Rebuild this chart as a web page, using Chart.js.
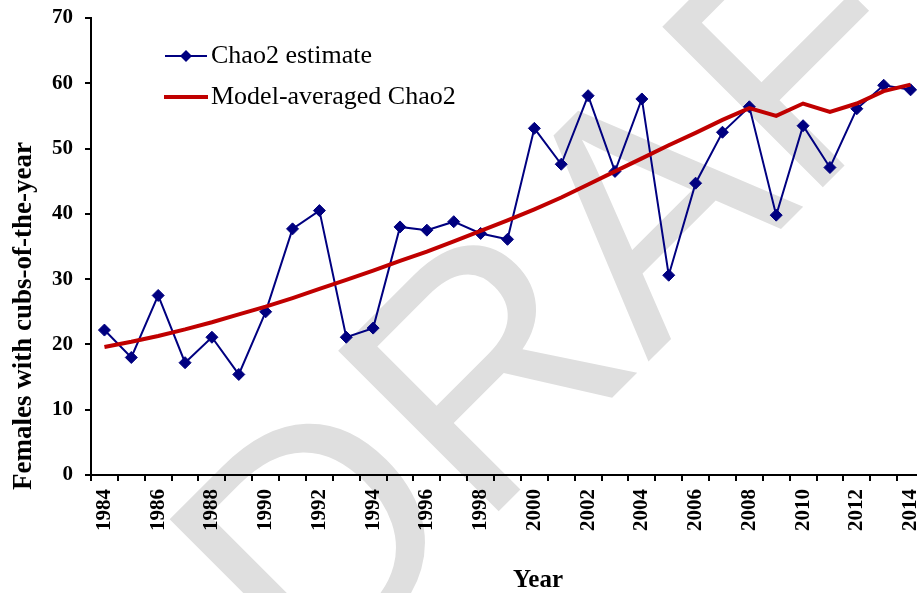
<!DOCTYPE html>
<html>
<head>
<meta charset="utf-8">
<script src="https://cdn.jsdelivr.net/npm/chart.js@4.4.1/dist/chart.umd.min.js"></script>
<style>
	html, body { margin: 0; padding: 0; background: #fff; overflow: hidden; }
	#wrap { width: 935px; height: 593px; }
</style>
</head>
<body>
<div id="wrap"><canvas id="mycanvas" width="935" height="593"></canvas></div>
<script>
var years = [];
for (var y = 1984; y <= 2014; y++) years.push(String(y));

var chao2 = [22.2, 18.0, 27.5, 17.2, 21.1, 15.4, 25.0, 37.7, 40.5, 21.1,
	22.5, 38.0, 37.5, 38.8, 37.0, 36.1, 53.1, 47.6, 58.1, 46.5,
	57.6, 30.6, 44.7, 52.5, 56.4, 39.8, 53.5, 47.1, 56.1, 59.7, 59.0];

var modelAvg = [19.6, 20.4, 21.3, 22.3, 23.4, 24.6, 25.8, 27.1, 28.5, 29.9,
	31.3, 32.8, 34.2, 35.8, 37.4, 39.0, 40.7, 42.5, 44.5, 46.5,
	48.5, 50.5, 52.4, 54.4, 56.2, 55.0, 56.9, 55.6, 56.9, 58.8, 59.8];

var yTicks = [0, 10, 20, 30, 40, 50, 60, 70];

var serif = '"Liberation Serif", "Times New Roman", serif';
var blue = '#000080';
var red = '#c00000';

// grey DRAFT stamp behind everything
var watermark = {
	id: 'watermark',
	beforeDraw: function(chart) {
		var ctx = chart.ctx;
		ctx.save();
		ctx.translate(311, 699);
		ctx.rotate(-Math.PI / 4);
		ctx.font = '330px "Liberation Sans", Arial, sans-serif';
		ctx.fillStyle = '#dfdfdf';
		ctx.textBaseline = 'alphabetic';
		ctx.fillText('DRAFT', 0, 0);
		ctx.restore();
	}
};

// legend inside the plot + axis titles
var extras = {
	id: 'extras',
	afterDraw: function(chart) {
		var ctx = chart.ctx;
		var ds = chart.data.datasets;
		ctx.save();

		// Chao2 estimate
		ctx.strokeStyle = ds[0].borderColor;
		ctx.lineWidth = ds[0].borderWidth;
		ctx.beginPath();
		ctx.moveTo(165, 56);
		ctx.lineTo(207, 56);
		ctx.stroke();
		ctx.fillStyle = ds[0].pointBackgroundColor;
		ctx.beginPath();
		ctx.moveTo(186, 50);
		ctx.lineTo(192, 56);
		ctx.lineTo(186, 62);
		ctx.lineTo(180, 56);
		ctx.closePath();
		ctx.fill();

		// Model-averaged
		ctx.strokeStyle = ds[1].borderColor;
		ctx.lineWidth = ds[1].borderWidth;
		ctx.beginPath();
		ctx.moveTo(164, 97);
		ctx.lineTo(208, 97);
		ctx.stroke();

		ctx.fillStyle = '#000';
		ctx.font = '26px ' + serif;
		ctx.textBaseline = 'middle';
		ctx.textAlign = 'left';
		ctx.fillText(ds[0].label, 211, 56);
		ctx.fillText(ds[1].label, 211, 97);

		// axis titles
		ctx.font = 'bold 25px ' + serif;
		ctx.textAlign = 'center';
		ctx.textBaseline = 'alphabetic';
		ctx.fillText('Year', 538, 587);

		ctx.translate(31, 316);
		ctx.rotate(-Math.PI / 2);
		ctx.font = 'bold 27px ' + serif;
		ctx.fillText('Females with cubs-of-the-year', 0, 0);
		ctx.restore();
	}
};

var ctx = document.getElementById('mycanvas');

var chart = new Chart(ctx, {
	type: 'line',
	data: {
		labels: years,
		datasets: [
			{
				label: 'Chao2 estimate',
				data: chao2,
				borderColor: blue,
				backgroundColor: blue,
				pointBackgroundColor: blue,
				pointBorderColor: blue,
				borderWidth: 2,
				pointStyle: 'rectRot',
				pointRadius: 6,
				pointBorderWidth: 1,
				tension: 0,
				fill: false,
				order: 1
			},
			{
				label: 'Model-averaged Chao2',
				data: modelAvg,
				borderColor: red,
				backgroundColor: red,
				pointBackgroundColor: red,
				borderWidth: 4,
				pointRadius: 0,
				tension: 0,
				fill: false,
				order: 0
			}
		]
	},
	options: {
		responsive: false,
		animation: false,
		devicePixelRatio: 1,
		layout: { padding: { top: 18, right: 11, left: 0, bottom: 0 } },
		plugins: {
			legend: { display: false },
			tooltip: { enabled: false }
		},
		scales: {
			x: {
				type: 'category',
				offset: true,
				afterFit: function(scale) {
					scale.height = 118;
					scale.paddingLeft = 0;
					scale.paddingRight = 0;
				},
				border: { display: true, color: '#000', width: 2 },
				grid: {
					offset: true,
					drawOnChartArea: false,
					drawTicks: true,
					tickLength: 6,
					color: '#000',
					lineWidth: 2
				},
				ticks: {
					autoSkip: false,
					maxRotation: 90,
					minRotation: 90,
					padding: 8,
					color: '#000',
					font: { family: serif, size: 21, weight: 'bold' },
					callback: function(val, i) {
						return i % 2 === 0 ? this.getLabelForValue(val) : '';
					}
				}
			},
			y: {
				min: yTicks[0],
				max: yTicks[yTicks.length - 1],
				afterFit: function(scale) {
					scale.width = 91;
					scale.paddingTop = 0;
					scale.paddingBottom = 0;
				},
				afterBuildTicks: function(scale) {
					scale.ticks = yTicks.map(function(v) { return { value: v }; });
				},
				border: { display: true, color: '#000', width: 2 },
				grid: {
					drawOnChartArea: false,
					drawTicks: true,
					tickLength: 6,
					color: '#000',
					lineWidth: 2
				},
				ticks: {
					padding: 12,
					color: '#000',
					font: { family: serif, size: 21, weight: 'bold' }
				}
			}
		}
	},
	plugins: [watermark, extras]
});
</script>
</body>
</html>
